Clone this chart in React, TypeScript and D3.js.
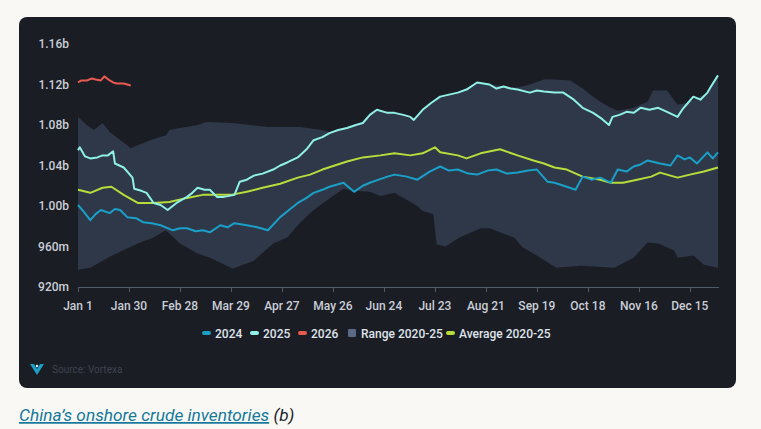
import React from "react";
import * as d3 from "d3";

// Day-of-year (0 = Jan 1) and value in millions of barrels
const s2024Days = [0, 3, 7, 10, 13, 18, 21, 24, 28, 33, 37, 42, 47, 54, 58, 62, 67, 71, 75, 81, 85, 89, 96, 102, 108, 115, 120, 125, 130, 134, 139, 143, 151, 157, 162, 166, 171, 176, 180, 187, 193, 200, 206, 211, 216, 222, 227, 233, 238, 244, 250, 256, 261, 264, 267, 271, 278, 283, 287, 292, 297, 303, 307, 312, 316, 320, 324, 331, 337, 341, 345, 348, 352, 358, 361, 364];
const s2024Vals = [1001, 995, 986, 992, 996, 993, 997, 996, 989, 988, 984, 983, 981, 976, 978, 978, 975, 976, 974, 981, 979, 983, 981, 979, 976, 989, 996, 1003, 1008, 1013, 1016, 1019, 1023, 1014, 1020, 1023, 1026, 1029, 1031, 1029, 1026, 1034, 1039, 1035, 1036, 1032, 1031, 1035, 1036, 1032, 1033, 1035, 1036, 1030, 1024, 1023, 1019, 1016, 1029, 1026, 1028, 1023, 1036, 1034, 1039, 1041, 1045, 1042, 1040, 1050, 1046, 1048, 1042, 1053, 1047, 1053];

const s2025Days = [0, 1, 4, 7, 11, 14, 17, 20, 21, 26, 31, 32, 36, 39, 43, 47, 51, 56, 62, 65, 68, 72, 75, 79, 83, 89, 92, 96, 100, 105, 111, 115, 119, 125, 130, 134, 139, 143, 148, 153, 158, 162, 166, 170, 176, 180, 185, 189, 191, 196, 201, 206, 211, 216, 221, 227, 234, 238, 242, 246, 250, 257, 261, 265, 271, 276, 282, 287, 293, 298, 302, 304, 308, 312, 316, 320, 325, 330, 335, 341, 344, 347, 350, 354, 358, 360, 364];
const s2025Vals = [1055, 1058, 1049, 1047, 1048, 1050, 1050, 1054, 1042, 1038, 1028, 1017, 1015, 1013, 1003, 1001, 996, 1003, 1009, 1013, 1018, 1016, 1016, 1009, 1009, 1011, 1024, 1026, 1030, 1032, 1036, 1040, 1043, 1048, 1056, 1065, 1068, 1072, 1075, 1077, 1080, 1082, 1090, 1095, 1092, 1092, 1090, 1088, 1085, 1095, 1102, 1108, 1110, 1112, 1115, 1122, 1120, 1116, 1118, 1116, 1115, 1112, 1114, 1113, 1112, 1112, 1105, 1097, 1092, 1086, 1080, 1088, 1090, 1093, 1092, 1097, 1095, 1097, 1093, 1088, 1096, 1102, 1108, 1105, 1112, 1118, 1129];

const s2026Days = [0, 2, 5, 8, 10, 13, 15, 18, 20, 22, 26, 28, 30];
const s2026Vals = [1122, 1124, 1124, 1126, 1125, 1124, 1128, 1124, 1122, 1121, 1121, 1120, 1119];

const avgDays = [0, 7, 14, 19, 26, 34, 43, 52, 62, 71, 81, 87, 96, 105, 115, 125, 132, 139, 146, 153, 162, 172, 180, 189, 196, 203, 206, 216, 221, 229, 240, 250, 259, 265, 271, 278, 287, 297, 303, 310, 318, 326, 331, 341, 348, 356, 364];
const avgVals = [1016, 1013, 1018, 1019, 1011, 1003, 1003, 1004, 1008, 1011, 1011, 1011, 1014, 1018, 1022, 1028, 1031, 1036, 1040, 1044, 1048, 1050, 1052, 1050, 1052, 1058, 1053, 1050, 1047, 1052, 1056, 1050, 1045, 1042, 1038, 1036, 1029, 1026, 1023, 1023, 1026, 1029, 1033, 1028, 1031, 1034, 1038];

const rangeMaxDays = [0, 5, 9, 14, 18, 28, 30, 34, 41, 50, 52, 68, 73, 88, 108, 126, 139, 143, 153, 162, 166, 170, 180, 191, 196, 206, 216, 227, 242, 250, 257, 265, 271, 280, 287, 293, 297, 302, 307, 316, 324, 327, 335, 341, 347, 358, 364];
const rangeMaxVals = [1088, 1080, 1075, 1082, 1073, 1060, 1057, 1060, 1065, 1070, 1075, 1080, 1083, 1082, 1078, 1078, 1075, 1073, 1077, 1082, 1090, 1095, 1092, 1085, 1095, 1108, 1112, 1122, 1118, 1117, 1120, 1125, 1125, 1124, 1116, 1108, 1103, 1098, 1094, 1097, 1103, 1114, 1114, 1100, 1102, 1112, 1129];

const rangeMinDays = [0, 7, 18, 34, 43, 50, 58, 68, 75, 81, 88, 100, 111, 119, 126, 134, 145, 151, 157, 166, 172, 180, 193, 196, 202, 204, 209, 217, 229, 234, 248, 253, 263, 272, 286, 305, 316, 324, 330, 339, 341, 350, 356, 364];
const rangeMinVals = [937, 939, 950, 963, 969, 976, 963, 953, 949, 944, 938, 946, 963, 969, 983, 996, 1010, 1017, 1015, 1014, 1010, 1013, 1000, 995, 992, 962, 960, 969, 978, 978, 969, 959, 949, 939, 941, 939, 949, 964, 963, 956, 949, 951, 942, 939];

const xTickDays = [0, 29, 58, 87, 116, 145, 174, 203, 232, 261, 290, 319, 348];
const xTickLabels = ["Jan 1", "Jan 30", "Feb 28", "Mar 29", "Apr 27", "May 26", "Jun 24", "Jul 23", "Aug 21", "Sep 19", "Oct 18", "Nov 16", "Dec 15"];
const yTickVals = [920, 960, 1000, 1040, 1080, 1120, 1160];
const yTickLabels = ["920m", "960m", "1.00b", "1.04b", "1.08b", "1.12b", "1.16b"];

const C24 = "#1aa0c8";
const C25 = "#8ff0e6";
const C26 = "#e65a50";
const CAVG = "#b6dd3c";
const CRANGE = "#2f3848";

const zip = (d: number[], v: number[]) => d.map((x, i) => [x, v[i]] as [number, number]);

export default function App() {
  const W = 761, H = 429;
  const x = d3.scaleLinear().domain([0, 364]).range([78, 718]);
  const y = d3.scaleLinear().domain([920, 1160]).range([287, 44]);
  const line = d3.line<[number, number]>().x((d) => x(d[0])).y((d) => y(d[1]));

  const upper = zip(rangeMaxDays, rangeMaxVals);
  const lower = zip(rangeMinDays, rangeMinVals).reverse();
  const rangePath = line(upper.concat(lower)) + "Z";

  const font = "Roboto, 'Noto Sans', sans-serif";

  const legend = [
    { label: "2024", color: C24, type: "line", x: 202 },
    { label: "2025", color: C25, type: "line", x: 250 },
    { label: "2026", color: C26, type: "line", x: 298 },
    { label: "Range 2020-25", color: "#5a6a86", type: "sq", x: 348 },
    { label: "Average 2020-25", color: CAVG, type: "line", x: 446 },
  ];

  return (
    <svg width={W} height={H} style={{ position: "absolute", left: 0, top: 0 }} fontFamily={font}>
      <rect x={0} y={0} width={W} height={H} fill="#f9f8f4" />
      <rect x={19} y={17} width={717} height={371} rx={8} fill="#1b1d25" />
      <path d={rangePath} fill={CRANGE} />
      {/* axis */}
      <line x1={78} x2={719} y1={287.5} y2={287.5} stroke="#525a68" strokeWidth={1} />
      {xTickDays.map((d, i) => (
        <g key={i}>
          <line x1={Math.round(x(d)) + 0.5} x2={Math.round(x(d)) + 0.5} y1={287} y2={292} stroke="#525a68" />
          <text x={x(d)} y={310} textAnchor="middle" fontSize={12} fontWeight={500} fill="#c9ced6">{xTickLabels[i]}</text>
        </g>
      ))}
      {yTickVals.map((v, i) => (
        <text key={i} x={69} y={y(v) + 4} textAnchor="end" fontSize={12} fontWeight={500} fill="#c9ced6">{yTickLabels[i]}</text>
      ))}
      <path d={line(zip(avgDays, avgVals)) || ""} fill="none" stroke={CAVG} strokeWidth={2} strokeLinejoin="round" />
      <path d={line(zip(s2024Days, s2024Vals)) || ""} fill="none" stroke={C24} strokeWidth={2} strokeLinejoin="round" />
      <path d={line(zip(s2025Days, s2025Vals)) || ""} fill="none" stroke={C25} strokeWidth={2} strokeLinejoin="round" />
      <path d={line(zip(s2026Days, s2026Vals)) || ""} fill="none" stroke={C26} strokeWidth={2} strokeLinejoin="round" />
      {/* legend */}
      {legend.map((l, i) => (
        <g key={i}>
          {l.type === "line" ? (
            <rect x={l.x} y={331} width={9} height={4} rx={2} fill={l.color} />
          ) : (
            <rect x={l.x} y={329} width={8} height={8} rx={1} fill={l.color} />
          )}
          <text x={l.x + 13} y={337.5} fontSize={12} fontWeight={500} fill="#dfe3ea">{l.label}</text>
        </g>
      ))}
      {/* source */}
      <path d="M30,364 L37,375 L44,364 L40,364 L37,369 L34,364 Z" fill="#1a9ec6" />
      <circle cx={37} cy={366} r={1.2} fill="#d8f4ff" />
      <text x={52} y={373} fontSize={10} fill="#3e4350">Source: Vortexa</text>
      {/* caption */}
      <text x={19} y={421} fontSize={17.3} fontStyle="italic">
        <tspan fill="#15789a" textDecoration="underline">China’s onshore crude inventories</tspan>
        <tspan fill="#1e1f2a"> (b)</tspan>
      </text>
    </svg>
  );
}
